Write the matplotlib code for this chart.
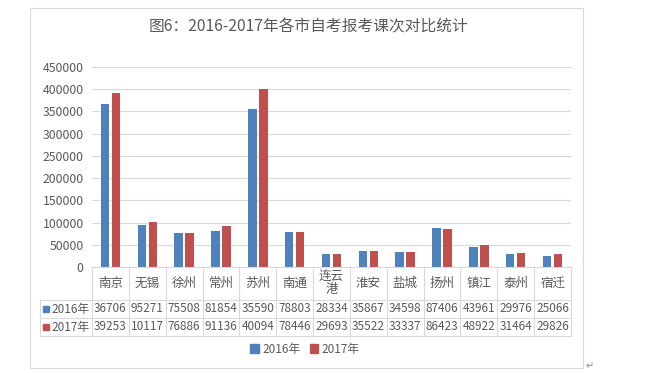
import matplotlib
matplotlib.use("Agg")
import matplotlib.pyplot as plt
from matplotlib.patches import Rectangle, Patch
from matplotlib.lines import Line2D
import numpy as np

plt.rcParams['font.family'] = ['Noto Sans CJK SC', 'DejaVu Sans']

TITLE = "图6：2016-2017年各市自考报考课次对比统计"
cities = ["南京", "无锡", "徐州", "常州", "苏州", "南通", "连云\n港",
          "淮安", "盐城", "扬州", "镇江", "泰州", "宿迁"]
series_names = ["2016年", "2017年"]
v2016 = [367060, 95271, 75508, 81854, 355900, 78803, 28334,
         35867, 34598, 87406, 43961, 29976, 25066]
v2017 = [392530, 101170, 76886, 91136, 400940, 78446, 29693,
         35522, 33337, 86423, 48922, 31464, 29826]
yticks = list(range(0, 450001, 50000))

BLUE = "#4F81BD"
RED = "#C0504D"
TXT = "#595959"
GRID = "#d9d9d9"

W, H = 650, 373
fig = plt.figure(figsize=(W / 100, H / 100), dpi=100)

def fx(px):
    return px / W

def fy(py):
    return 1 - py / H

# chart frame
fig.patches.append(Rectangle((fx(30), fy(368)), fx(553), 360 / H,
                             transform=fig.transFigure, fill=False,
                             edgecolor=GRID, linewidth=0.8))

left, right, top, bottom = 92, 571, 67, 267
ax = fig.add_axes([fx(left), fy(bottom), fx(right - left), (bottom - top) / H])

x = np.arange(len(cities))
bw = 0.23
ax.bar(x - 0.15, v2016, width=bw, color=BLUE, zorder=3)
ax.bar(x + 0.15, v2017, width=bw, color=RED, zorder=3)

ax.set_xlim(-0.5, len(cities) - 0.5)
ax.set_ylim(0, 450000)
ax.set_yticks(yticks)
ax.set_yticklabels([str(t) for t in yticks], fontsize=8.8, color=TXT)
ax.set_xticks([])
ax.tick_params(axis='y', length=0, pad=6)
ax.grid(axis='y', color=GRID, linewidth=0.8, zorder=0)
for s in ax.spines.values():
    s.set_visible(False)

# data table under the axis (pixel layout converted to figure coords)
row_y = [267, 300, 318, 336]
label_left = 40
col_w = (right - left) / len(cities)

def hline(x0, x1, y):
    fig.add_artist(Line2D([fx(x0), fx(x1)], [fy(y), fy(y)], color=GRID,
                          linewidth=0.8, transform=fig.transFigure))

def vline(xp, y0, y1):
    fig.add_artist(Line2D([fx(xp), fx(xp)], [fy(y0), fy(y1)], color=GRID,
                          linewidth=0.8, transform=fig.transFigure))

hline(left, right, row_y[0])
for yy in row_y[1:]:
    hline(label_left, right, yy)
for i in range(len(cities) + 1):
    vline(left + i * col_w, row_y[0], row_y[3])
vline(label_left, row_y[1], row_y[3])

for i, c in enumerate(cities):
    cx = left + (i + 0.5) * col_w
    fig.text(fx(cx), fy((row_y[0] + row_y[1]) / 2), c, ha='center',
             va='center', fontsize=9, color=TXT, linespacing=1.0)

for r, (name, vals, col) in enumerate([(series_names[0], v2016, BLUE),
                                        (series_names[1], v2017, RED)]):
    yc = (row_y[r + 1] + row_y[r + 2]) / 2
    fig.patches.append(Rectangle((fx(43), fy(yc + 3)), fx(6), 6 / H,
                                 transform=fig.transFigure, color=col))
    fig.text(fx(51), fy(yc), name, ha='left', va='center', fontsize=8.5,
             color=TXT)
    for i, v in enumerate(vals):
        cx = left + (i + 0.5) * col_w
        fig.text(fx(cx), fy(yc), str(v)[:5], ha='center', va='center',
                 fontsize=8.5, color=TXT)

fig.text(fx(308), fy(27), TITLE, ha='center', va='center', fontsize=11.3,
         color=TXT)

handles = [Patch(color=BLUE, label=series_names[0]),
           Patch(color=RED, label=series_names[1])]
leg = fig.legend(handles=handles, loc='center', ncol=2, frameon=False,
                 bbox_to_anchor=(fx(305), fy(349)), fontsize=8.5,
                 handlelength=0.7, handleheight=0.7, handletextpad=0.3,
                 columnspacing=0.8)
for t in leg.get_texts():
    t.set_color(TXT)

fig.text(fx(590), fy(366), "↵", ha='center', va='center', fontsize=7,
         color="#888888")

fig.savefig("out.png", dpi=100)
